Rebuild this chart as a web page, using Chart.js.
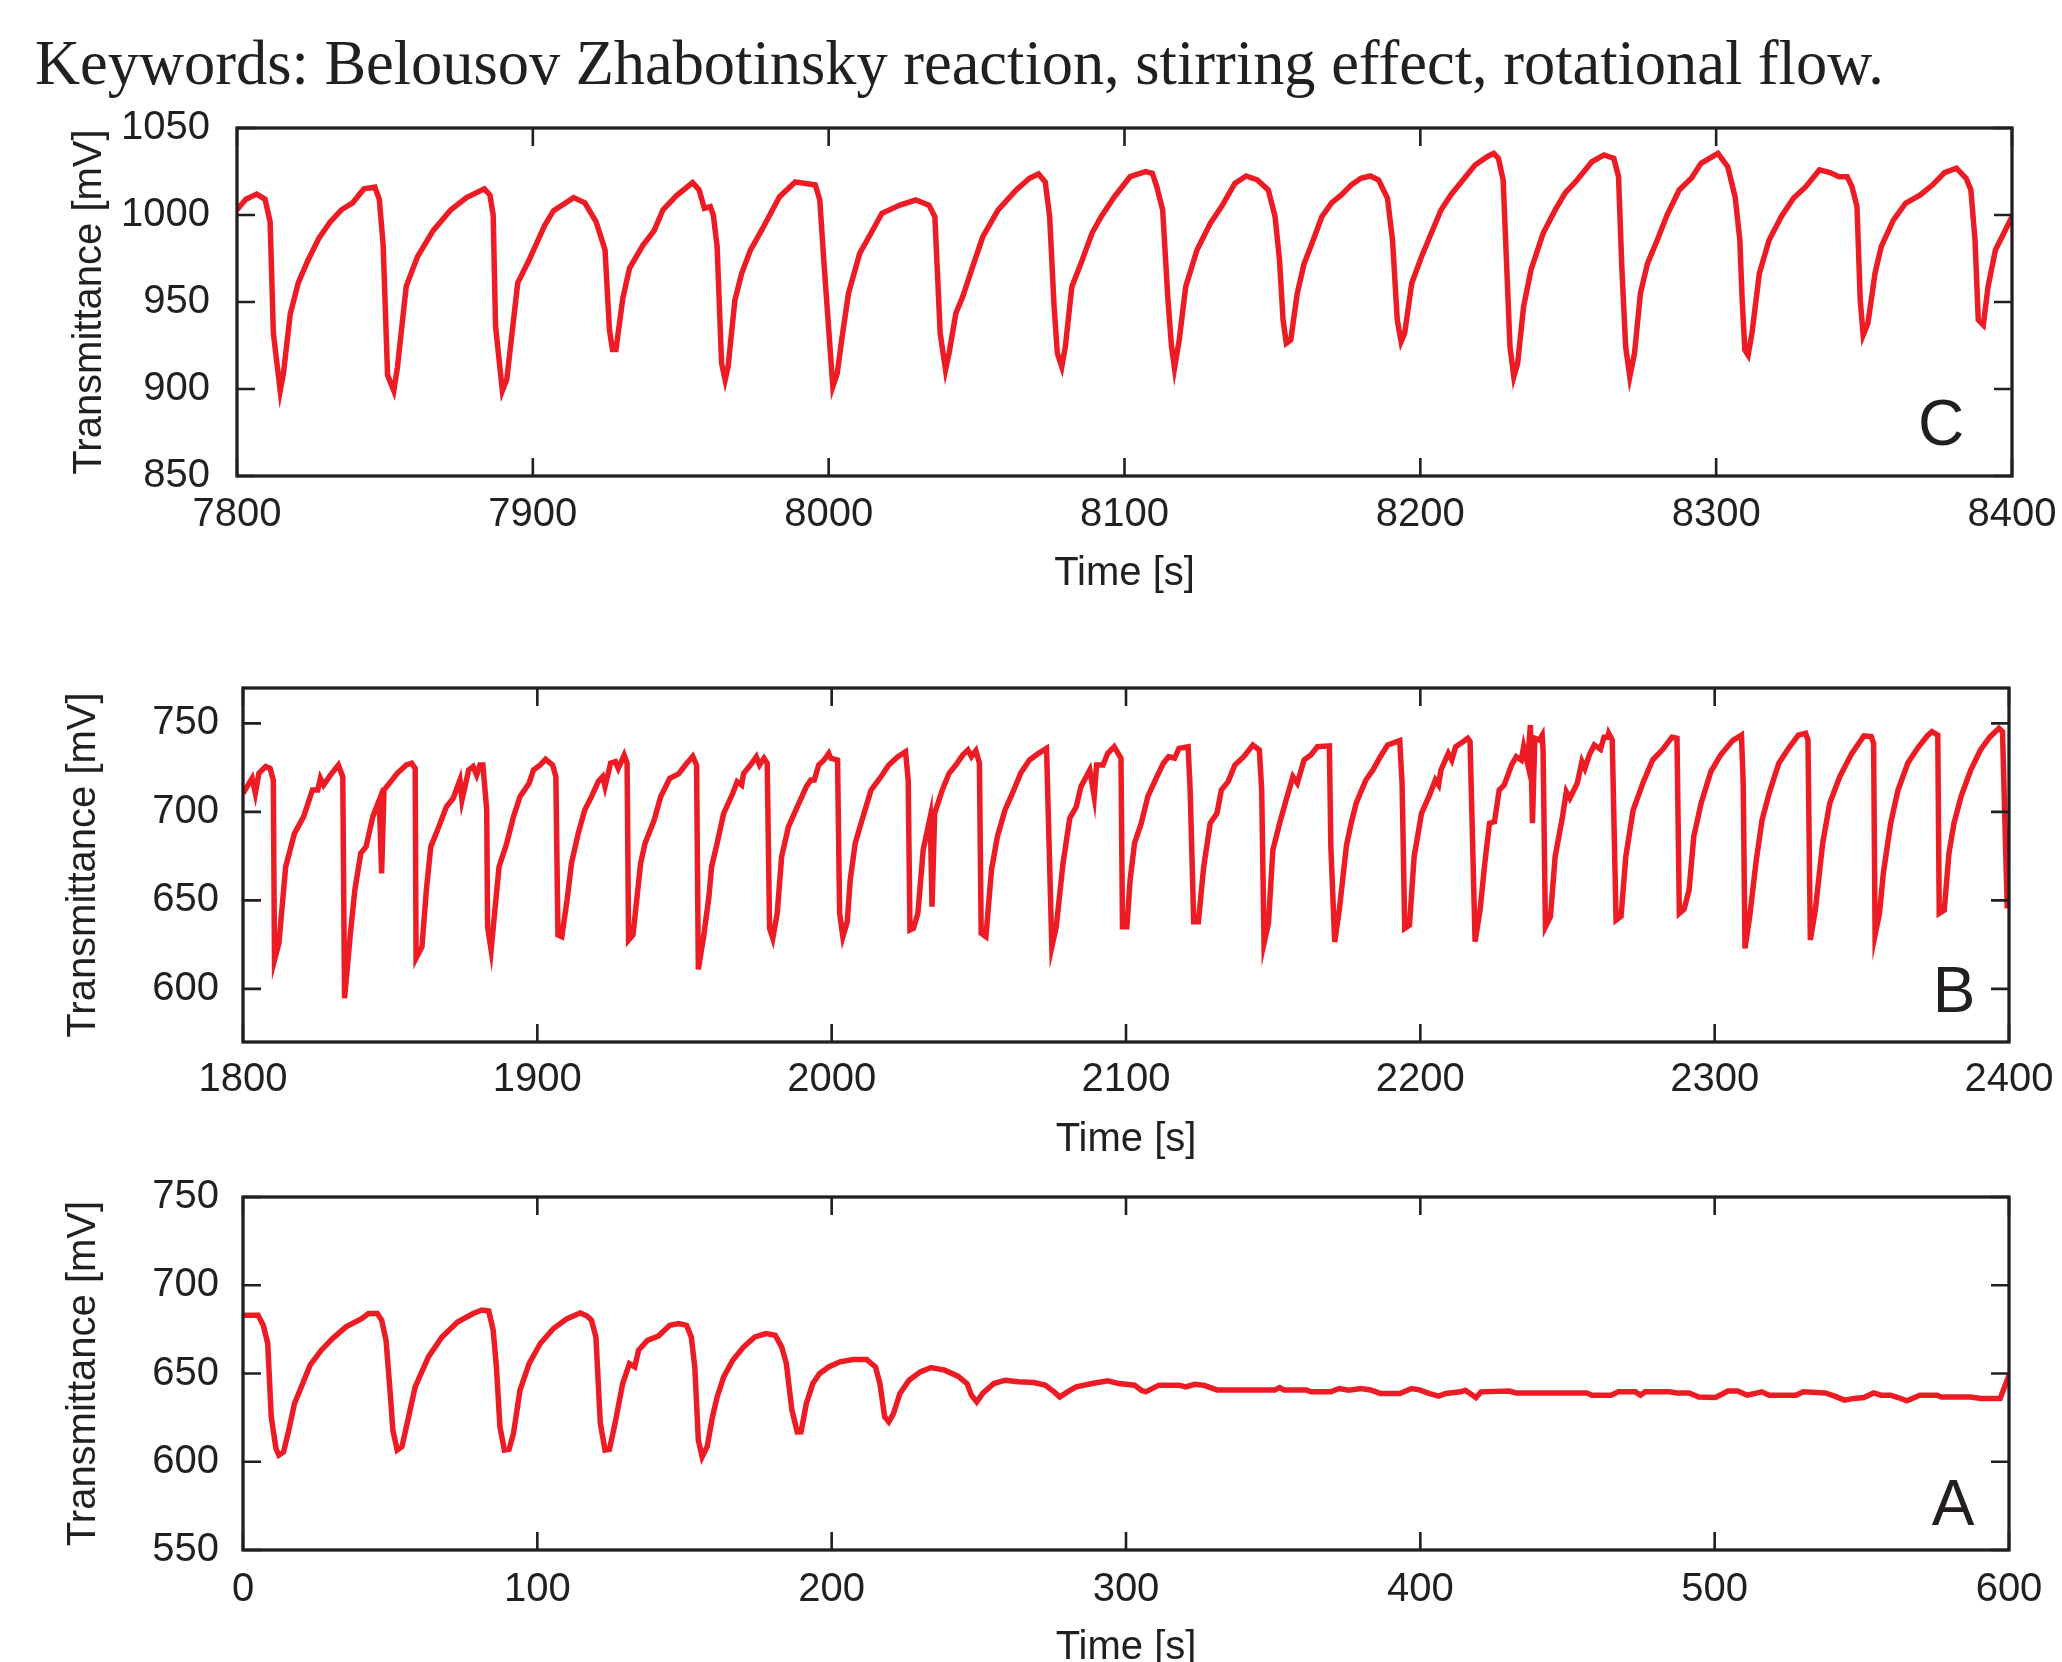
<!DOCTYPE html>
<html>
<head>
<meta charset="utf-8">
<script src="https://cdn.jsdelivr.net/npm/chart.js@4.4.0/dist/chart.umd.min.js"></script>
<style>
  body { margin: 0; background: #fff; width: 2062px; height: 1662px; position: relative; overflow: hidden; }
  .kw { position: absolute; left: 35px; top: 32px; font-family: "Liberation Serif", "Times New Roman", serif;
        font-size: 62.4px; line-height: 62.4px; color: #231f20; white-space: nowrap; }
  canvas { position: absolute; left: 0; }
</style>
</head>
<body>
<div class="kw">Keywords: Belousov Zhabotinsky reaction, stirring effect, rotational flow.</div>
<canvas id="panelC" width="2062" height="498" style="top:100px"></canvas>
<canvas id="panelB" width="2062" height="504" style="top:660px"></canvas>
<canvas id="panelA" width="2062" height="503" style="top:1169px"></canvas>
<script>
const RED = "#ed1c24";
const INK = "#231f20";

// Panel C: 7800-8400 s
const timeC = [7800, 7803, 7806.7, 7809.5, 7811.2, 7812.3, 7814.6, 7815.7, 7818, 7820.7, 7824, 7827.8, 7831.5, 7835.3, 7839.1, 7842.9, 7846.6, 7848.1, 7849.4, 7850.9,
  7853, 7854.2, 7857.2, 7861, 7866.3, 7872.3, 7877.6, 7883.6, 7885.5, 7886.6, 7887.4, 7889.7, 7891.2, 7894.9, 7898.7, 7904, 7907, 7913.8, 7917.6, 7921.4,
  7924.4, 7925.9, 7926.9, 7928.1, 7930.4, 7932.7, 7937.2, 7941, 7944, 7948.5, 7954, 7956.2, 7958, 7960, 7961, 7962.3, 7963.8, 7965, 7966, 7968.3,
  7970.6, 7973.6, 7977.4, 7980.4, 7983.4, 7988.7, 7991.7, 7995.5, 7997, 7998.5, 8000.6, 8001.4, 8002.9, 8004.4, 8006.7, 8010.5, 8014.3, 8018, 8024.1, 8029.4,
  8033.9, 8035.9, 8037.7, 8039.5, 8040.7, 8043, 8045.3, 8048.3, 8052.1, 8057.3, 8063.4, 8067.9, 8070.9, 8073.2, 8074.7, 8076.2, 8077.3, 8078.8, 8080, 8082.2,
  8085.3, 8089, 8092.1, 8096.6, 8101.9, 8107.1, 8109.4, 8110.9, 8112.9, 8114.7, 8115.9, 8116.9, 8118.5, 8120.7, 8124.5, 8129, 8132.8, 8137.3, 8141.1, 8144.9,
  8148.6, 8150.9, 8152.4, 8153.6, 8154.7, 8156.2, 8158.4, 8160.7, 8163, 8166.7, 8170, 8173.3, 8176.6, 8179.9, 8183.1, 8185.9, 8188.9, 8190.6, 8192.2, 8193.5,
  8194.7, 8197.1, 8200.4, 8203.7, 8207, 8210.3, 8214.4, 8218.5, 8222.6, 8224.8, 8226.4, 8228, 8229.2, 8230.3, 8231.6, 8232.9, 8234.9, 8237.4, 8241.5, 8245.6,
  8248.9, 8253, 8258, 8262.1, 8265.4, 8267, 8268.1, 8269.4, 8270.8, 8272.4, 8274.4, 8276.8, 8280.1, 8283.4, 8287.5, 8291.6, 8294.9, 8300.6, 8303.9, 8306.4,
  8308, 8308.8, 8309.7, 8310.8, 8312.1, 8314.6, 8317.9, 8322, 8326.1, 8330.3, 8334.9, 8338.5, 8341.5, 8344.3, 8345.9, 8347.6, 8348.7, 8349.7, 8351.3, 8353.7,
  8355.8, 8359.9, 8364, 8369, 8373.1, 8377.2, 8381.2, 8384.5, 8386.1, 8387.5, 8388.6, 8390.3, 8391.9, 8394.4, 8400];
const valueC = [1003, 1009, 1012, 1009, 996, 932, 899, 909, 943, 961, 974, 987, 996, 1003, 1007, 1015, 1016, 1009, 983, 908,
  899, 912, 959, 976, 991, 1003, 1010, 1015, 1011.5, 1000, 936, 899, 905.5, 961, 974, 994, 1002.5, 1010, 1007, 996,
  980, 934, 922.7, 922.7, 952, 969.5, 982.6, 991, 1003, 1011, 1018.6, 1014.4, 1003.8, 1004.8, 1000, 981.8, 914.8, 905.2, 912.8, 951,
  966.5, 980, 991.4, 1001, 1010.5, 1019, 1018.2, 1017.2, 1008.6, 970.3, 920.5, 901.4, 909, 928.2, 955, 978, 989.5, 1001, 1005.7, 1008.6,
  1005.7, 999, 932, 911, 920.5, 943.5, 953, 968.4, 987.5, 1002.9, 1014.4, 1021.1, 1023.6, 1019, 999, 947.3, 920.5, 912.8, 924.3, 958.8,
  972.2, 989.5, 999, 1010.5, 1022, 1024.9, 1024, 1016.3, 1002.9, 951, 924.3, 911.9, 928.2, 958.8, 979.9, 995.2, 1004.8, 1018.2, 1022.4, 1020.1,
  1014.4, 999, 974.1, 939.7, 926.3, 928.2, 955, 972, 982, 999, 1007, 1011.5, 1017.2, 1021.1, 1022.4, 1020.1, 1009.6, 985.6, 939.7, 927.2,
  932, 960.8, 976, 989.5, 1002.9, 1011.5, 1020.1, 1028.7, 1033.5, 1035.4, 1032.6, 1020.1, 970.3, 924.3, 907.1, 914.8, 947.3, 968.4, 989.5, 1002.9,
  1012.5, 1020.1, 1030.6, 1034.5, 1032.6, 1022, 970.3, 924.3, 907.1, 920.5, 955, 972.2, 985.6, 1000, 1014.4, 1021.1, 1029.7, 1035.4, 1027.8, 1010.5,
  985.6, 951, 922.4, 919.5, 932, 966.5, 985.6, 999, 1009.6, 1016.3, 1025.9, 1024.4, 1022, 1022, 1016.3, 1004.8, 951, 931, 937.8, 966.5,
  981.8, 997.1, 1006.7, 1011.5, 1017.2, 1024.4, 1026.9, 1021.1, 1014.4, 985.6, 939.7, 936.8, 958.8, 979.9, 999];

// Panel B: 1800-2400 s
const timeB = [1800, 1803.1, 1804.2, 1805.4, 1807.7, 1809.2, 1810.3, 1810.7, 1812.2, 1814.5, 1817.5, 1820.6, 1823.6, 1825.4, 1826.3, 1827.4, 1829.7, 1832.4, 1833.9, 1834.5,
  1836.5, 1838, 1840, 1841.8, 1844.1, 1846.3, 1847.1, 1847.9, 1850.2, 1852.4, 1855.5, 1857.3, 1858.5, 1858.8, 1860.8, 1862.3, 1863.8, 1866.1, 1869.1, 1871.4,
  1873.7, 1874.4, 1876.7, 1878.2, 1879.4, 1880.5, 1881.5, 1882.8, 1883.1, 1884.3, 1885.8, 1887, 1889.6, 1891.9, 1894.1, 1897.2, 1898.7, 1901, 1902.8, 1905.2,
  1906.3, 1907, 1908.3, 1910.1, 1911.6, 1913.9, 1916.1, 1918.4, 1920.7, 1922.2, 1923, 1924.9, 1926.5, 1927.5, 1929.5, 1930.5, 1931, 1932.5, 1935.1, 1936.6,
  1939.7, 1941.9, 1945, 1948, 1950.3, 1952.8, 1954.1, 1954.7, 1956.5, 1958.3, 1959.2, 1961.1, 1963.3, 1966.4, 1967.9, 1969.4, 1970.1, 1972.4, 1974.4, 1975.5,
  1977, 1978.1, 1978.9, 1980, 1981.5, 1983, 1985.3, 1988.3, 1991.4, 1992.9, 1994.1, 1995.6, 1997.4, 1999, 1999.7, 2002, 2002.7, 2003.8, 2005.3, 2006.3,
  2008, 2010.3, 2013.4, 2016.4, 2019.4, 2022.5, 2025.1, 2026, 2026.6, 2027.8, 2029.3, 2031.1, 2033.5, 2034.1, 2035, 2037.6, 2039.9, 2042.2, 2044.5, 2046.3,
  2047.5, 2049, 2050.2, 2050.8, 2052.4, 2054.3, 2056.3, 2058.9, 2061.9, 2064.2, 2067.2, 2070.3, 2073, 2074.8, 2076.3, 2078.6, 2080.9, 2083.1, 2084.7, 2086.2,
  2087.7, 2089.2, 2090, 2092.2, 2093.8, 2096, 2098.3, 2098.8, 2100.3, 2101.4, 2102.9, 2105.2, 2107.4, 2110.5, 2112.7, 2114.5, 2116.5, 2118, 2121.1, 2121.8,
  2123, 2124.6, 2126.4, 2128.6, 2130.9, 2132.4, 2134.7, 2137, 2140, 2143.1, 2145.3, 2146.1, 2146.9, 2148.4, 2149.9, 2152.2, 2154.4, 2156.7, 2158.2, 2160.5,
  2162.8, 2165, 2169.1, 2169.6, 2170.9, 2172.5, 2174.9, 2176.5, 2178.2, 2181.5, 2183.9, 2186.4, 2188.9, 2193, 2193.8, 2194.7, 2196.3, 2197.9, 2200.4, 2202.9,
  2205.1, 2206.2, 2207, 2209.5, 2210.7, 2212, 2214.5, 2216.1, 2216.9, 2218.6, 2220.3, 2221.9, 2223.5, 2225.2, 2226.8, 2228.5, 2231, 2232.6, 2234.3, 2235.1,
  2236.4, 2237.4, 2238.1, 2238.9, 2240.4, 2241.4, 2241.7, 2242.5, 2244.2, 2245.8, 2248.3, 2249.6, 2250.8, 2253.3, 2254.9, 2255.9, 2257.4, 2259.1, 2261.2, 2262.4,
  2263.7, 2264, 2265.2, 2266.5, 2268.2, 2269.8, 2272.3, 2275.6, 2278.9, 2282.2, 2285.5, 2287.2, 2288, 2289.6, 2291.3, 2292.9, 2295.4, 2298.7, 2302, 2306.1,
  2309.1, 2309.7, 2310.3, 2311.9, 2314, 2316.1, 2318.5, 2321.8, 2325.1, 2328.4, 2330.9, 2331.7, 2332.5, 2334.2, 2336.7, 2339.1, 2342.5, 2346.6, 2350.7, 2353.2,
  2354, 2354.5, 2356, 2357.3, 2359.8, 2362.3, 2365.6, 2368.9, 2372.2, 2373.8, 2375.8, 2376.3, 2378, 2379.6, 2381.3, 2383.7, 2387, 2390.3, 2393.6, 2396.6,
  2397.8, 2399.4];
const valueB = [710.5, 719, 710.5, 721.8, 725.6, 724.6, 718, 616.3, 625.8, 669, 687.9, 697.3, 712.4, 712.4, 719, 715.2, 720.8, 726.5, 719.9, 594.7,
  631.4, 655.9, 676.6, 680.3, 697.3, 706.7, 665.3, 712.4, 717.1, 721.8, 726.5, 727.5, 724.6, 617.3, 623.8, 655.9, 680.3, 689.8, 702.9, 707.7,
  718, 706.7, 723.7, 725.6, 720.8, 726.5, 726.5, 701.1, 635.1, 622, 648.4, 669, 682.3, 697.3, 708.6, 716.2, 723.7, 726.5, 729.7, 726.5,
  719.9, 630.5, 629.5, 650.2, 671, 687.9, 701.1, 708.6, 717.1, 719.9, 714.3, 727.5, 728.4, 724.6, 732.1, 727.5, 627.6, 630.5, 671, 682.3,
  695.4, 708.6, 719, 721.5, 726.5, 731.4, 726.5, 611, 629.5, 652.1, 669, 682.3, 699.2, 710.5, 717.1, 715.2, 721.8, 726.5, 731.2, 726.5,
  730.3, 727.5, 634.2, 628.6, 642.7, 674.7, 691.6, 702.9, 714.3, 718, 718, 726.5, 729.3, 733.1, 730.3, 729.3, 642.7, 629.5, 638, 661.5,
  682.3, 695.4, 712.4, 719, 726.5, 731.2, 734, 718, 633.3, 634.2, 642.7, 678.5, 697.3, 646.4, 699.2, 712.4, 721.8, 726.5, 732.1, 735,
  731.2, 734.6, 727.5, 631.4, 629.5, 667.2, 686, 701.1, 712.4, 721.8, 729.3, 733.1, 735.9, 623.8, 635.1, 671, 696.4, 702.9, 714.3, 719,
  723.7, 708.6, 726.5, 726.5, 733.1, 736.8, 730.3, 635.1, 635.1, 661.5, 682.3, 693.6, 708.6, 719.9, 727.5, 731.2, 730.3, 735.9, 736.8, 712.4,
  638, 638, 669, 693.6, 699.2, 712.4, 717.1, 726.5, 731.2, 737.8, 735, 712.4, 625.8, 637.1, 678.5, 693.6, 706.7, 719.9, 716.2, 729.3,
  732.1, 736.8, 737.3, 680.3, 626.5, 645, 681, 693.6, 704.9, 718, 723.7, 731.2, 737.8, 740.3, 716.2, 634.2, 636, 674.7, 699.2, 708.6,
  718, 715.2, 723.7, 733.1, 729.3, 736.8, 739.7, 741.6, 739.7, 626.7, 644.6, 671, 693.6, 694.5, 712.4, 715.2, 726.5, 731.2, 729.3, 736.8,
  727.5, 749.1, 693.6, 741.6, 740.6, 743.4, 735, 635.1, 640.8, 674.7, 697.3, 711.4, 707.7, 716.2, 728.4, 724.6, 732.1, 737.8, 735.4, 742.2,
  742.2, 744.4, 740.6, 638.9, 641, 674.7, 701.1, 716.2, 729.3, 735, 742.2, 741.6, 642.7, 645, 655.9, 686, 704.9, 722.7, 732.1, 740.3,
  743.4, 716.2, 622.9, 640.8, 671, 695.4, 710.5, 727.5, 735.9, 743.4, 744.4, 740.6, 627.6, 644.6, 682.3, 704.9, 719.9, 733.1, 742.9, 742.5,
  738.8, 630.5, 642.7, 665.3, 693.6, 712.4, 727.5, 735.9, 742.9, 745.3, 743.4, 642.7, 644.5, 676.6, 693.6, 708.6, 723.7, 735, 742.5, 747.2,
  745.3, 645.5];

// Panel A: 0-600 s
const timeA = [0, 5.1, 6.9, 8.4, 9.6, 11.2, 12.2, 13.8, 15.3, 17.5, 19.8, 22.8, 26.6, 30.4, 35, 40.3, 42.6, 45.6, 47.1, 48.6,
  50.2, 50.9, 52.4, 54, 55.5, 58.5, 63, 67.6, 72.9, 78.2, 81.2, 83.5, 85, 86.1, 87.3, 88.8, 90.4, 91.9, 94.1, 97.2,
  101, 105.5, 110.1, 114.6, 116.9, 118.4, 119.9, 121.4, 123, 124.5, 126.4, 129, 131.3, 133.1, 134.4, 137.4, 141.1, 145, 148, 150.7,
  152.3, 153.5, 154.7, 156, 157.7, 159.5, 161.1, 163.3, 166.4, 170.1, 173.9, 177.7, 180.8, 183, 184.6, 186.5, 188.3, 189.6, 191.4, 193.6,
  195.9, 199, 202.8, 207.3, 211.9, 214.9, 216.4, 218, 219.4, 221, 223.2, 226.3, 230.1, 233.8, 238.4, 242.9, 246, 247.5, 249.3, 251.3,
  255.1, 258.9, 263.4, 268.7, 272.5, 275.6, 277.5, 280.1, 283.1, 288.5, 293.8, 297.6, 302.9, 305.2, 306.7, 311.2, 318, 320.3, 323.3, 326.4,
  330.9, 350.6, 352.2, 353.7, 361.3, 362.8, 369.6, 372.4, 375.7, 379.8, 383.1, 386.4, 393, 397.1, 399.7, 402.9, 406.2, 408.7, 413.7, 415.3,
  416.9, 418.9, 420.6, 430.2, 432.6, 456.6, 458.3, 464.8, 467.3, 473.1, 474.8, 476.4, 484.7, 487.2, 491.3, 494.6, 500.3, 504.5, 507.8, 511.1,
  516, 518.5, 527.6, 530.1, 537.5, 540.8, 544.1, 547.4, 550.7, 554, 556.5, 559.8, 562.3, 565.3, 569.7, 575.5, 577.1, 587, 590.4, 597,
  600];
const valueA = [683, 683, 677.3, 667, 625.4, 607.5, 603.8, 605.6, 616, 633, 642.4, 654.7, 663.2, 669.8, 676.4, 681.1, 684, 684, 680.2, 668.8,
  634.9, 617.9, 606.6, 608.5, 619.8, 642.4, 659.4, 670.7, 679.2, 684, 686, 685.4, 674.5, 653.7, 619.8, 606.6, 607, 616, 640.5, 655.6,
  667, 675.5, 681.1, 684.3, 682.6, 680.2, 670.7, 621.7, 606.6, 607, 621.7, 644.3, 655.6, 653.7, 663.2, 668.8, 671.2, 677.3, 678.3, 677.3,
  670.7, 653.7, 612.3, 602.8, 608.5, 625.4, 636.7, 648.1, 657.5, 665.1, 670.7, 672.6, 671.7, 665.1, 655.6, 629.2, 616.9, 617, 633, 644.3,
  650, 653.7, 656.6, 657.9, 657.9, 653.7, 644.3, 625.4, 622.6, 627.3, 638.7, 646.2, 650.9, 653.4, 651.9, 648.5, 644.3, 637.7, 633.9, 638.7,
  644.3, 646.2, 645.3, 644.9, 643.4, 639.6, 636.7, 639.6, 642.4, 644.3, 645.8, 644.3, 643.4, 640.5, 639.6, 643.4, 643.4, 642.4, 643.9, 643.4,
  640.7, 640.7, 642, 640.7, 640.7, 639.6, 639.6, 641.5, 640.5, 641.5, 640.7, 638.7, 638.7, 641.5, 640.7, 638.7, 637.2, 638.7, 639.6, 640.5,
  638.7, 636.4, 639.6, 640.1, 639, 639, 637.7, 637.7, 639.6, 639.6, 637.7, 639.6, 639.6, 639, 639, 636.7, 636.4, 640.1, 640.1, 637.7,
  639.6, 637.7, 637.7, 639.6, 639, 637.2, 634.9, 635.9, 636.4, 639, 637.7, 637.7, 636.4, 634.5, 637.7, 637.7, 636.7, 636.7, 635.9, 635.9,
  649];

const xTicksC = [7800, 7900, 8000, 8100, 8200, 8300, 8400];
const yTicksC = [850, 900, 950, 1000, 1050];
const xTicksB = [1800, 1900, 2000, 2100, 2200, 2300, 2400];
const yTicksB = [600, 650, 700, 750];
const xTicksA = [0, 100, 200, 300, 400, 500, 600];
const yTicksA = [550, 600, 650, 700, 750];

// frame + inward tick marks on all four sides
const frameTicks = {
  id: "frameTicks",
  afterDraw(chart) {
    const { ctx, chartArea: a, scales: { x, y } } = chart;
    const len = 18;
    ctx.save();
    ctx.strokeStyle = INK;
    ctx.lineWidth = 2.6;
    ctx.beginPath();
    x.ticks.forEach(t => {
      const px = x.getPixelForValue(t.value);
      ctx.moveTo(px, a.bottom); ctx.lineTo(px, a.bottom - len);
      ctx.moveTo(px, a.top); ctx.lineTo(px, a.top + len);
    });
    y.ticks.forEach(t => {
      const py = y.getPixelForValue(t.value);
      ctx.moveTo(a.left, py); ctx.lineTo(a.left + len, py);
      ctx.moveTo(a.right, py); ctx.lineTo(a.right - len, py);
    });
    ctx.stroke();
    ctx.lineWidth = 3.3;
    ctx.strokeRect(a.left, a.top, a.right - a.left, a.bottom - a.top);
    ctx.restore();
  }
};

const panelLetter = {
  id: "panelLetter",
  afterDraw(chart, args, opts) {
    const { ctx, chartArea: a } = chart;
    ctx.save();
    ctx.fillStyle = INK;
    ctx.font = '64px "Liberation Sans", Arial, sans-serif';
    ctx.textAlign = "center";
    ctx.textBaseline = "alphabetic";
    ctx.fillText(opts.text, a.right - opts.dx, a.bottom - opts.dy);
    ctx.restore();
  }
};

const font = { family: '"Liberation Sans", Arial, sans-serif', size: 40 };

function makePanel(id, times, values, xTicks, yTicks, cfg) {
  const pts = times.map((t, i) => ({ x: t, y: values[i] }));
  return new Chart(document.getElementById(id), {
    type: "line",
    data: { datasets: [{ data: pts, borderColor: RED, borderWidth: 5.5, pointRadius: 0, tension: 0, fill: false }] },
    options: {
      responsive: false, animation: false, events: [], devicePixelRatio: 1,
      layout: { autoPadding: false, padding: { top: cfg.padTop, right: cfg.padRight, left: 0, bottom: 0 } },
      plugins: {
        legend: { display: false }, tooltip: { enabled: false },
        panelLetter: { text: cfg.letter, dx: cfg.letterDx, dy: cfg.letterDy }
      },
      scales: {
        x: {
          type: "linear", min: xTicks[0], max: xTicks[xTicks.length - 1],
          afterBuildTicks: s => { s.ticks = xTicks.map(v => ({ value: v })); },
          afterFit: s => { s.height = cfg.xHeight; s.paddingLeft = 0; s.paddingRight = 0; },
          grid: { display: false, drawTicks: false }, border: { display: false },
          ticks: { font, color: INK, padding: cfg.xPad, maxRotation: 0, autoSkip: false, callback: v => String(v) },
          title: { display: true, text: "Time [s]", font, color: INK, padding: 0 }
        },
        y: {
          type: "linear", min: cfg.yMin, max: cfg.yMax,
          afterBuildTicks: s => { s.ticks = yTicks.map(v => ({ value: v })); },
          afterFit: s => { s.width = cfg.yWidth; s.paddingTop = 0; s.paddingBottom = 0; },
          grid: { display: false, drawTicks: false }, border: { display: false },
          ticks: { font, color: INK, padding: cfg.yPad, autoSkip: false, callback: v => String(v) },
          title: { display: true, text: "Transmittance [mV]", font, color: INK, padding: { top: cfg.yTitlePad, bottom: 0 } }
        }
      }
    },
    plugins: [frameTicks, panelLetter]
  });
}

makePanel("panelC", timeC, valueC, xTicksC, yTicksC,
  { padTop: 28, padRight: 50, yWidth: 237, xHeight: 122, yMin: 850, yMax: 1050, xPad: 15, yPad: 27, yTitlePad: 66, letter: "C", letterDx: 71, letterDy: 31 });
makePanel("panelB", timeB, valueB, xTicksB, yTicksB,
  { padTop: 28, padRight: 53, yWidth: 243, xHeight: 122, yMin: 570, yMax: 770, xPad: 14, yPad: 24, yTitlePad: 60, letter: "B", letterDx: 55, letterDy: 30 });
makePanel("panelA", timeA, valueA, xTicksA, yTicksA,
  { padTop: 28, padRight: 53, yWidth: 243, xHeight: 122, yMin: 550, yMax: 750, xPad: 16, yPad: 24, yTitlePad: 60, letter: "A", letterDx: 56, letterDy: 25 });
</script>
</body>
</html>
